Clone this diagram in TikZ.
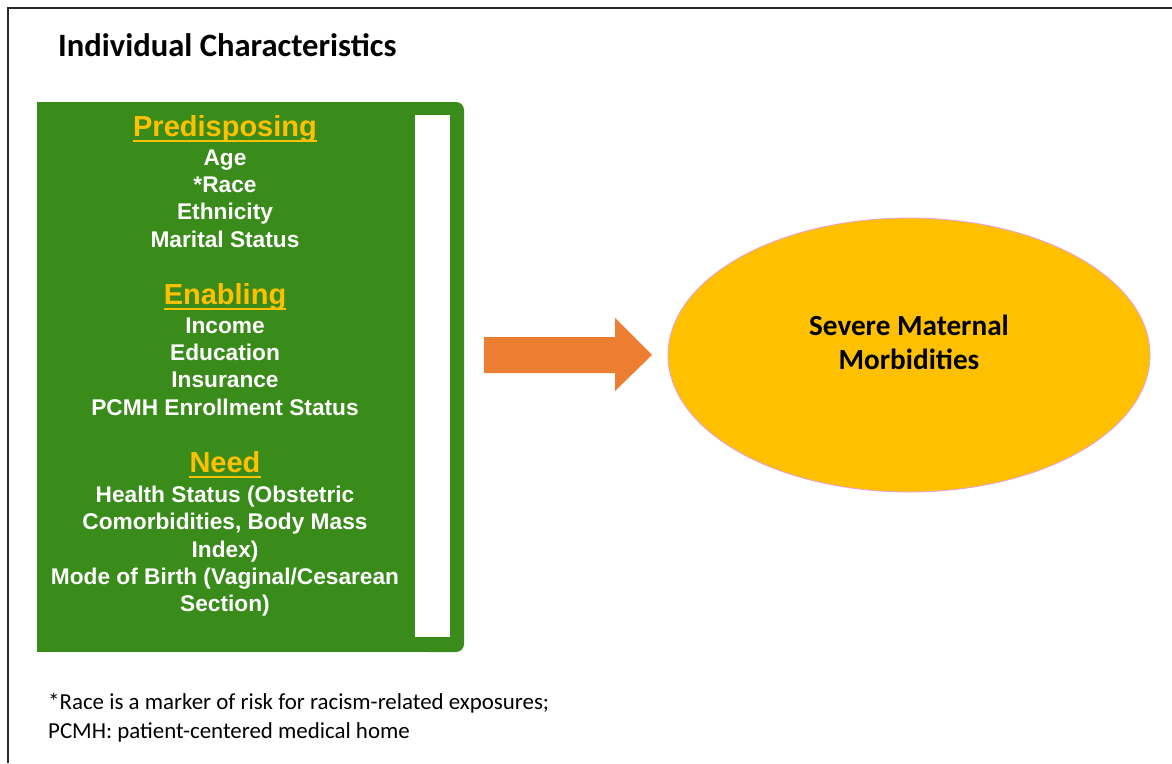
\documentclass[tikz,border=0pt]{standalone}
\usepackage{fontspec}
\setmainfont{Carlito}
\newfontfamily\arialf{Liberation Sans}
\usetikzlibrary{shapes.geometric}
\definecolor{grn}{RGB}{57,139,26}
\definecolor{ylw}{RGB}{255,192,0}
\definecolor{orng}{RGB}{237,125,49}
\definecolor{rim}{RGB}{228,160,228}
\definecolor{frm}{RGB}{40,40,40}
\tikzset{
  body/.style={anchor=base, inner sep=0, text=white, font=\arialf\bfseries\fontsize{22.7pt}{27pt}\selectfont},
  head/.style={anchor=base, inner sep=0, text=ylw, font=\arialf\bfseries\fontsize{29pt}{34pt}\selectfont},
  uline/.style={draw=ylw, line width=2.6pt},
  smm/.style={anchor=base, inner sep=0, font=\bfseries\fontsize{29.2pt}{34pt}\selectfont},
  note/.style={anchor=base west, inner sep=0, font=\fontsize{22.9pt}{27pt}\selectfont},
}
\begin{document}
\begin{tikzpicture}[x=1pt,y=-1pt]
\useasboundingbox (0,0) rectangle (1172,763);
% frame
\draw[frm, line width=1.6pt] (8,763) -- (8,8) -- (1172,8);
% title
\node[anchor=base west, inner sep=0, font=\bfseries\fontsize{32.6pt}{38pt}\selectfont] (title) at (58,56) {Individual Characteristics};
% green bracket panel
\fill[grn] (37,102) rectangle (440,652);
\fill[grn, rounded corners=8pt] (420,102) rectangle (464,652);
\fill[white] (415,115) rectangle (450,637);
% Predisposing
\node[head] (hp) at (225,136) {Predisposing};
\draw[uline] ([yshift=-5pt]hp.base west) -- ([yshift=-5pt]hp.base east);
\node[body] (p1) at (225,165) {Age};
\node[body] (p2) at (225,192.3) {*Race};
\node[body] (p3) at (225,219.6) {Ethnicity};
\node[body] (p4) at (225,247) {Marital Status};
% Enabling
\node[head] (he) at (225,304) {Enabling};
\draw[uline] ([yshift=-5pt]he.base west) -- ([yshift=-5pt]he.base east);
\node[body] (e1) at (225,333) {Income};
\node[body] (e2) at (225,360.3) {Education};
\node[body] (e3) at (225,387.6) {Insurance};
\node[body] (e4) at (225,415) {PCMH Enrollment Status};
% Need
\node[head] (hn) at (225,472) {Need};
\draw[uline] ([yshift=-5pt]hn.base west) -- ([yshift=-5pt]hn.base east);
\node[body] (n1) at (225,502.5) {Health Status (Obstetric};
\node[body] (n2) at (225,529.8) {Comorbidities, Body Mass};
\node[body] (n3) at (225,557.1) {Index)};
\node[body] (n4) at (225,584.4) {Mode of Birth (Vaginal/Cesarean};
\node[body] (n5) at (225,611.7) {Section)};
% block arrow
\fill[orng] (484,337) -- (615,337) -- (615,318) -- (652,355) -- (615,391) -- (615,373) -- (484,373) -- cycle;
% outcome ellipse
\node[ellipse, fill=ylw, draw=rim, line width=0.8pt, minimum width=482pt, minimum height=274pt, inner sep=0] (out) at (909,355) {};
\node[smm] (o1) at (909,335) {Severe Maternal};
\node[smm] (o2) at (909,369) {Morbidities};
% footnote
\node[note] (f1) at (48,709) {*Race is a marker of risk for racism-related exposures;};
\node[note] (f2) at (48,738) {PCMH: patient-centered medical home};
\end{tikzpicture}
\end{document}
